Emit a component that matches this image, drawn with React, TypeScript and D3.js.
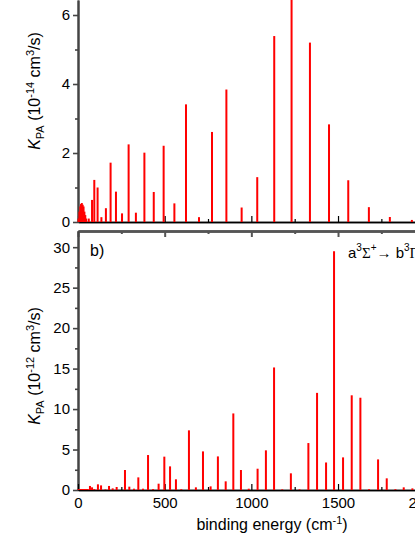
import { useEffect, useRef } from "react";
import * as d3 from "d3";

// panel a) - upper spectrum, K_PA in 1e-14 cm^3/s
const energiesA = [3, 8, 13, 17, 22, 27, 32, 37, 42, 47, 62, 81, 94, 113, 135, 161, 188, 219, 254, 292, 334, 383, 437, 494, 556, 623, 698, 773, 856, 944, 1034, 1132, 1232, 1338, 1448, 1559, 1678, 1799, 1926];
const valuesA = [0.1, 0.3, 0.45, 0.52, 0.55, 0.5, 0.45, 0.3, 0.2, 0.1, 0.1, 0.64, 1.22, 1.0, 0.14, 0.4, 1.72, 0.88, 0.25, 2.25, 0.27, 2.01, 0.87, 2.21, 0.54, 3.41, 0.14, 2.61, 3.84, 0.42, 1.3, 5.39, 6.8, 5.2, 2.83, 1.21, 0.43, 0.145, 0.06];

// panel b) - lower spectrum, K_PA in 1e-12 cm^3/s
const energiesB = [4, 12, 20, 28, 36, 46, 56, 69, 81, 94, 115, 133, 158, 179, 200, 223, 271, 296, 323, 348, 375, 404, 433, 465, 498, 531, 565, 596, 640, 680, 721, 765, 807, 852, 896, 940, 985, 1036, 1084, 1131, 1178, 1228, 1278, 1329, 1379, 1431, 1477, 1529, 1579, 1629, 1679, 1731, 1781, 1831, 1879, 1929];
const valuesB = [0.12, 0.12, 0.12, 0.12, 0.12, 0.12, 0.12, 0.5, 0.33, 0.12, 0.7, 0.57, 0.08, 0.5, 0.2, 0.37, 2.47, 0.41, 0.16, 1.56, 0.16, 4.32, 0.12, 0.78, 4.12, 2.92, 1.32, 0.1, 7.37, 0.33, 4.77, 0.45, 4.15, 1.07, 9.46, 2.47, 0.16, 2.63, 4.9, 15.14, 0.08, 2.06, 0.08, 5.8, 12.0, 3.4, 29.5, 4.03, 11.7, 11.4, 0.1, 3.78, 1.44, 0.1, 0.33, 0.2];

const xTicks = [0, 500, 1000, 1500, 2000];
const xMinorTicks = [250, 750, 1250, 1750];
const yTicksA = [0, 2, 4, 6];
const yMinorA = [1, 3, 5];
const yTicksB = [0, 5, 10, 15, 20, 25, 30];
const yMinorB = [2.5, 7.5, 12.5, 17.5, 22.5, 27.5];

const FONT = "'Liberation Sans', Arial, sans-serif";
const SERIF = "'Liberation Serif', 'Times New Roman', serif";

export default function App() {
  const ref = useRef<SVGSVGElement>(null);

  useEffect(() => {
    const svg = d3.select(ref.current);
    svg.selectAll("*").remove();

    const left = 78;
    const fmt = d3.format("d");
    const x = d3.scaleLinear().domain([0, 2000]).range([left, 424.7]);
    const yA = d3.scaleLinear().domain([0, 6.435]).range([222, 0]);
    const yB = d3.scaleLinear().domain([0, 32]).range([490, 231]);

    const style = (g: any, stroke: string, width: number) => {
      g.select(".domain").attr("stroke", stroke).attr("stroke-width", width);
      g.selectAll(".tick line").attr("stroke", stroke).attr("stroke-width", width * 0.8);
      g.selectAll("text").attr("font-family", FONT).attr("font-size", 15).attr("fill", "#000");
    };

    // ---- panel a axes
    const gxA = svg.append("g").attr("transform", "translate(0,222)");
    gxA.call(d3.axisTop(x).tickValues(xTicks).tickSize(6).tickSizeOuter(0).tickFormat(() => ""));
    style(gxA, "#000", 1.5);
    const gxAm = svg.append("g").attr("transform", "translate(0,222)");
    gxAm.call(d3.axisTop(x).tickValues(xMinorTicks).tickSize(3).tickSizeOuter(0).tickFormat(() => ""));
    style(gxAm, "#000", 1.5);

    const gyA = svg.append("g").attr("transform", `translate(${left},0)`);
    gyA.call(d3.axisLeft(yA).tickValues(yTicksA).tickSize(5).tickPadding(3).tickSizeOuter(0).tickFormat(fmt));
    style(gyA, "#444", 2);
    const gyAm = svg.append("g").attr("transform", `translate(${left},0)`);
    gyAm.call(d3.axisLeft(yA).tickValues(yMinorA).tickSize(3).tickSizeOuter(0).tickFormat(() => ""));
    style(gyAm, "#444", 2);

    // ---- panel b axes
    const gtB = svg.append("g").attr("transform", "translate(0,231)");
    gtB.call(d3.axisBottom(x).tickValues(xTicks).tickSize(6).tickSizeOuter(0).tickFormat(() => ""));
    style(gtB, "#555", 2.5);
    const gtBm = svg.append("g").attr("transform", "translate(0,231)");
    gtBm.call(d3.axisBottom(x).tickValues(xMinorTicks).tickSize(3).tickSizeOuter(0).tickFormat(() => ""));
    style(gtBm, "#555", 2.5);

    const gyB = svg.append("g").attr("transform", `translate(${left},0)`);
    gyB.call(d3.axisLeft(yB).tickValues(yTicksB).tickSize(5).tickPadding(3).tickSizeOuter(0).tickFormat(fmt));
    style(gyB, "#444", 2);
    const gyBm = svg.append("g").attr("transform", `translate(${left},0)`);
    gyBm.call(d3.axisLeft(yB).tickValues(yMinorB).tickSize(3).tickSizeOuter(0).tickFormat(() => ""));
    style(gyBm, "#444", 2);

    const gxBm = svg.append("g").attr("transform", "translate(0,490)");
    gxBm.call(d3.axisBottom(x).tickValues(xMinorTicks).tickSize(-3).tickSizeOuter(0).tickFormat(() => ""));
    style(gxBm, "#000", 1.5);
    const gxB = svg.append("g").attr("transform", "translate(0,490)");
    gxB.call(d3.axisBottom(x).tickValues(xTicks).tickSize(-6).tickPadding(7).tickSizeOuter(0).tickFormat(fmt));
    style(gxB, "#000", 1.5);

    // ---- bars
    const dataA = energiesA.map((e, i) => ({ e, v: valuesA[i] }));
    const dataB = energiesB.map((e, i) => ({ e, v: valuesB[i] }));

    svg.append("g").selectAll("rect")
      .data(dataA)
      .enter()
      .append("rect")
      .attr("x", (d) => x(d.e) - 1)
      .attr("y", (d) => yA(d.v))
      .attr("width", 2)
      .attr("height", (d) => yA(0) - yA(d.v))
      .attr("fill", "#ff0000");

    svg.append("g").selectAll("rect")
      .data(dataB)
      .enter()
      .append("rect")
      .attr("x", (d) => x(d.e) - 1)
      .attr("y", (d) => yB(d.v))
      .attr("width", 2)
      .attr("height", (d) => yB(0) - yB(d.v))
      .attr("fill", "#ff0000");

    // ---- titles
    const yTitle = (cy: number, exp: string) => {
      const t = svg.append("text")
        .attr("transform", `translate(40,${cy}) rotate(-90)`)
        .attr("text-anchor", "middle")
        .attr("font-family", FONT)
        .attr("font-size", 16)
        .attr("fill", "#000");
      t.append("tspan").attr("font-style", "italic").text("K");
      t.append("tspan").attr("font-size", 11).attr("dy", 4).text("PA");
      t.append("tspan").attr("dy", -4).text(" (10");
      t.append("tspan").attr("font-size", 11).attr("dy", -6).text(exp);
      t.append("tspan").attr("dy", 6).text(" cm");
      t.append("tspan").attr("font-size", 11).attr("dy", -6).text("3");
      t.append("tspan").attr("dy", 6).text("/s)");
    };
    yTitle(91, "-14");
    yTitle(366, "-12");

    const xt = svg.append("text")
      .attr("x", 272)
      .attr("y", 530)
      .attr("text-anchor", "middle")
      .attr("font-family", FONT)
      .attr("font-size", 16)
      .attr("fill", "#000");
    xt.append("tspan").text("binding energy (cm");
    xt.append("tspan").attr("font-size", 11).attr("dy", -6).text("-1");
    xt.append("tspan").attr("dy", 6).text(")");

    svg.append("text")
      .attr("x", 90)
      .attr("y", 256)
      .attr("font-family", FONT)
      .attr("font-size", 16)
      .attr("fill", "#000")
      .text("b)");

    const ann = svg.append("text")
      .attr("x", 348)
      .attr("y", 258)
      .attr("font-family", FONT)
      .attr("font-size", 15)
      .attr("fill", "#000");
    ann.append("tspan").text("a");
    ann.append("tspan").attr("font-size", 10).attr("dy", -7).text("3");
    ann.append("tspan").attr("dy", 7).attr("font-family", SERIF).text("Σ");
    ann.append("tspan").attr("font-size", 10).attr("dy", -7).text("+");
    ann.append("tspan").attr("dy", 7).text("→ b");
    ann.append("tspan").attr("font-size", 10).attr("dy", -7).text("3");
    ann.append("tspan").attr("dy", 7).attr("font-family", SERIF).text("Π");
  }, []);

  return (
    <svg
      ref={ref}
      width={415}
      height={537}
      style={{ position: "absolute", left: 0, top: 0, background: "#fff" }}
    />
  );
}
